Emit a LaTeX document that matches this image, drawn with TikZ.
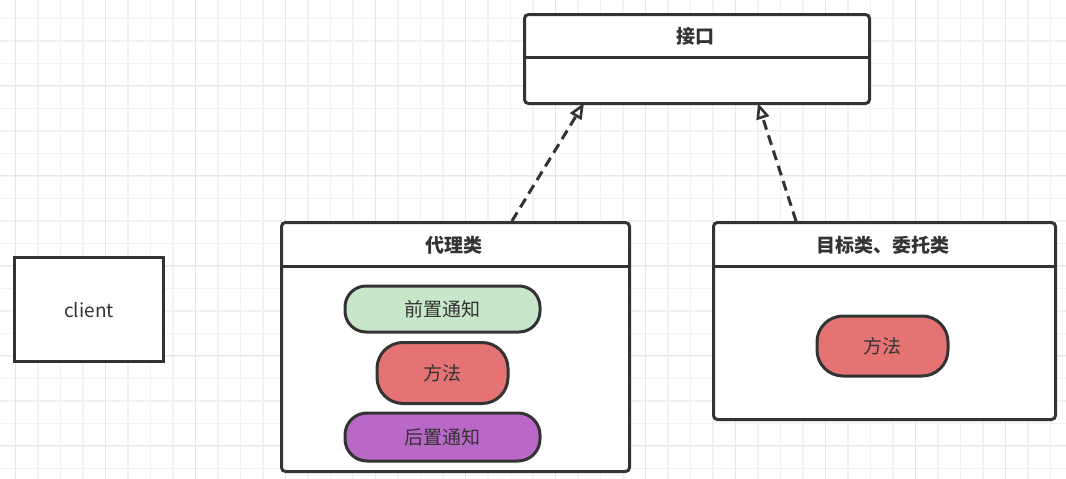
\documentclass[tikz,border=0pt]{standalone}
\usepackage{fontspec}
\setmainfont{Noto Sans CJK SC}
\usetikzlibrary{arrows.meta}
\definecolor{ink}{HTML}{333333}
\definecolor{gridminor}{HTML}{F2F2F2}
\definecolor{gridmajor}{HTML}{E6E6E6}
\definecolor{pillgreen}{HTML}{C8E6C9}
\definecolor{pillred}{HTML}{E57373}
\definecolor{pillpurple}{HTML}{BA68C8}
\begin{document}
\begin{tikzpicture}[x=1pt,y=-1pt,
  minorline/.style={draw=gridminor,line width=1.5pt},
  majorline/.style={draw=gridmajor,line width=1.5pt},
  classbox/.style={draw=ink,fill=white,line width=3pt,rounded corners=4pt,anchor=north west,inner sep=0pt},
  divider/.style={draw=ink,line width=3pt},
  titletext/.style={text=ink,font=\fontsize{19}{22}\selectfont\bfseries,inner sep=0pt},
  pill/.style={draw=ink,line width=3pt,text=ink,font=\fontsize{19}{22}\selectfont,inner sep=0pt},
  clientbox/.style={draw=ink,fill=white,line width=3.2pt,anchor=north west,inner sep=0pt,text=ink,font=\fontsize{19}{22}\selectfont},
  realize/.style={draw=ink,line width=3pt,dash pattern=on 10pt off 6pt,-{Triangle[open,length=16pt,width=13pt,line width=2.6pt]}}
]
\fill[white] (0,0) rectangle (1066,479);
\useasboundingbox (0,0) rectangle (1066,479);
% grid
\foreach \i in {0,...,47} \draw[minorline] ({15.7+22.5*\i},0) -- ({15.7+22.5*\i},479);
\foreach \i in {0,...,20} \draw[minorline] (0,{18.3+22.5*\i}) -- (1066,{18.3+22.5*\i});
\foreach \i in {-1,...,11} \draw[majorline] ({105.7+90*\i},0) -- ({105.7+90*\i},479);
\foreach \i in {-1,...,4} \draw[majorline] (0,{85.7+90*\i}) -- (1066,{85.7+90*\i});

% interface
\node[classbox,minimum width=345pt,minimum height=89pt] (iface) at (523,13) {};
\node[titletext] (ifacetitle) at (695.5,36) {接口};
\draw[divider] (iface.west |- 0,57.5) -- (iface.east |- 0,57.5);

% proxy class
\node[classbox,minimum width=348pt,minimum height=249pt] (proxy) at (280,221) {};
\node[titletext] (proxytitle) at (454,245) {代理类};
\draw[divider] (proxy.west |- 0,266) -- (proxy.east |- 0,266);
\node[pill,fill=pillgreen,minimum width=195pt,minimum height=46pt,rounded corners=21pt] (before) at (442.5,309) {前置通知};
\node[pill,fill=pillred,minimum width=131pt,minimum height=61pt,rounded corners=26pt] (method1) at (442.5,373) {方法};
\node[pill,fill=pillpurple,minimum width=195pt,minimum height=48pt,rounded corners=22pt] (after) at (442.5,437) {后置通知};

% target class
\node[classbox,minimum width=342pt,minimum height=197pt] (target) at (712,221) {};
\node[titletext] (targettitle) at (883,245) {目标类、委托类};
\draw[divider] (target.west |- 0,266) -- (target.east |- 0,266);
\node[pill,fill=pillred,minimum width=131pt,minimum height=60pt,rounded corners=26pt] (method2) at (882.5,346) {方法};

% client
\node[clientbox,minimum width=149pt,minimum height=104pt] (client) at (13,256) {client};

% realization arrows
\coordinate (pstart) at (512,221);
\coordinate (pend) at (584,103);
\coordinate (tstart) at (796,221);
\coordinate (tend) at (758,103);
\draw[realize] (pstart) -- (pend);
\draw[realize] (tstart) -- (tend);
\end{tikzpicture}
\end{document}
